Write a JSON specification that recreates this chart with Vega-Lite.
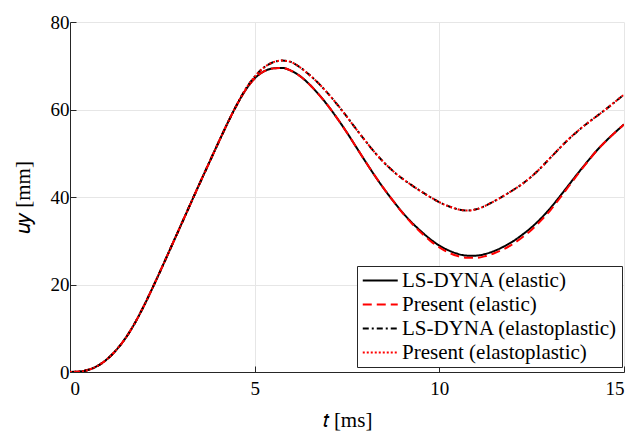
{
  "$schema": "https://vega.github.io/schema/vega-lite/v6.json",
  "width": 554,
  "height": 350,
  "autosize": {"type": "none"},
  "padding": {"left": 70, "top": 22, "right": 11, "bottom": 59},
  "background": "white",
  "config": {
    "font": "Liberation Serif",
    "view": {"stroke": null},
    "axis": {
      "domainColor": "#262626",
      "domainWidth": 1,
      "tickColor": "#262626",
      "tickSize": -6,
      "gridColor": "#e6e6e6",
      "gridWidth": 1,
      "labelFont": "Liberation Serif",
      "labelFontSize": 19,
      "labelColor": "#000000",
      "titleFont": "Liberation Serif",
      "titleFontSize": 21,
      "titleFontWeight": "normal",
      "titleColor": "#000000"
    },
    "legend": {
      "labelFont": "Liberation Serif",
      "labelFontSize": 21,
      "labelColor": "#000000"
    }
  },
  "data": {
    "values": [
      {"t": 0, "a": 0, "b": 0, "c": 0, "d": 0},
      {"t": 0.25, "a": 0.1, "b": 0.1, "c": 0.1, "d": 0.1},
      {"t": 0.5, "a": 0.5, "b": 0.5, "c": 0.5, "d": 0.5},
      {"t": 0.75, "a": 1.4, "b": 1.4, "c": 1.4, "d": 1.4},
      {"t": 1.0, "a": 2.9, "b": 2.9, "c": 2.9, "d": 2.9},
      {"t": 1.25, "a": 5.0, "b": 5.0, "c": 5.0, "d": 5.0},
      {"t": 1.5, "a": 7.7, "b": 7.7, "c": 7.7, "d": 7.7},
      {"t": 1.75, "a": 11.1, "b": 11.1, "c": 11.1, "d": 11.1},
      {"t": 2.0, "a": 15.1, "b": 15.1, "c": 15.1, "d": 15.1},
      {"t": 2.25, "a": 19.5, "b": 19.5, "c": 19.5, "d": 19.5},
      {"t": 2.5, "a": 24.1, "b": 24.1, "c": 24.1, "d": 24.1},
      {"t": 2.75, "a": 28.8, "b": 28.8, "c": 28.8, "d": 28.8},
      {"t": 3.0, "a": 33.5, "b": 33.5, "c": 33.5, "d": 33.5},
      {"t": 3.25, "a": 38.2, "b": 38.2, "c": 38.2, "d": 38.2},
      {"t": 3.5, "a": 42.9, "b": 42.9, "c": 42.9, "d": 42.9},
      {"t": 3.75, "a": 47.5, "b": 47.5, "c": 47.5, "d": 47.5},
      {"t": 4.0, "a": 52.1, "b": 52.1, "c": 52.1, "d": 52.1},
      {"t": 4.25, "a": 56.6, "b": 56.6, "c": 56.6, "d": 56.6},
      {"t": 4.5, "a": 60.8, "b": 60.8, "c": 60.8, "d": 60.8},
      {"t": 4.75, "a": 64.4, "b": 64.4, "c": 64.6, "d": 64.6},
      {"t": 5.0, "a": 67.1, "b": 67.1, "c": 67.5, "d": 67.5},
      {"t": 5.25, "a": 68.7, "b": 68.7, "c": 69.6, "d": 69.6},
      {"t": 5.5, "a": 69.4, "b": 69.4, "c": 70.8, "d": 70.8},
      {"t": 5.75, "a": 69.5, "b": 69.5, "c": 71.2, "d": 71.2},
      {"t": 6.0, "a": 68.8, "b": 68.8, "c": 70.8, "d": 70.8},
      {"t": 6.25, "a": 67.5, "b": 67.5, "c": 69.5, "d": 69.5},
      {"t": 6.5, "a": 65.6, "b": 65.6, "c": 67.8, "d": 67.8},
      {"t": 6.75, "a": 63.3, "b": 63.3, "c": 65.8, "d": 65.8},
      {"t": 7.0, "a": 60.7, "b": 60.7, "c": 63.5, "d": 63.5},
      {"t": 7.25, "a": 57.8, "b": 57.8, "c": 61.0, "d": 61.0},
      {"t": 7.5, "a": 54.7, "b": 54.7, "c": 58.3, "d": 58.3},
      {"t": 7.75, "a": 51.4, "b": 51.4, "c": 55.5, "d": 55.5},
      {"t": 8.0, "a": 48.1, "b": 48.1, "c": 52.8, "d": 52.8},
      {"t": 8.25, "a": 44.9, "b": 44.9, "c": 50.2, "d": 50.2},
      {"t": 8.5, "a": 41.9, "b": 41.9, "c": 47.9, "d": 47.9},
      {"t": 8.75, "a": 39.1, "b": 39.1, "c": 45.9, "d": 45.9},
      {"t": 9.0, "a": 36.5, "b": 36.4, "c": 44.2, "d": 44.2},
      {"t": 9.25, "a": 34.2, "b": 34.0, "c": 42.7, "d": 42.7},
      {"t": 9.5, "a": 32.2, "b": 31.9, "c": 41.3, "d": 41.3},
      {"t": 9.75, "a": 30.4, "b": 30.0, "c": 40.0, "d": 40.0},
      {"t": 10.0, "a": 28.9, "b": 28.5, "c": 38.8, "d": 38.8},
      {"t": 10.25, "a": 27.8, "b": 27.3, "c": 37.9, "d": 37.9},
      {"t": 10.5, "a": 27.0, "b": 26.5, "c": 37.2, "d": 37.2},
      {"t": 10.75, "a": 26.6, "b": 26.1, "c": 36.9, "d": 36.9},
      {"t": 11.0, "a": 26.6, "b": 26.1, "c": 37.2, "d": 37.2},
      {"t": 11.25, "a": 27.0, "b": 26.5, "c": 38.0, "d": 38.0},
      {"t": 11.5, "a": 27.7, "b": 27.2, "c": 39.1, "d": 39.1},
      {"t": 11.75, "a": 28.7, "b": 28.1, "c": 40.3, "d": 40.3},
      {"t": 12.0, "a": 29.9, "b": 29.3, "c": 41.6, "d": 41.6},
      {"t": 12.25, "a": 31.4, "b": 30.8, "c": 43.0, "d": 43.0},
      {"t": 12.5, "a": 33.1, "b": 32.5, "c": 44.7, "d": 44.7},
      {"t": 12.75, "a": 35.1, "b": 34.6, "c": 46.7, "d": 46.7},
      {"t": 13.0, "a": 37.4, "b": 36.9, "c": 48.9, "d": 48.9},
      {"t": 13.25, "a": 40.0, "b": 39.6, "c": 51.1, "d": 51.1},
      {"t": 13.5, "a": 42.7, "b": 42.4, "c": 53.2, "d": 53.2},
      {"t": 13.75, "a": 45.4, "b": 45.2, "c": 55.1, "d": 55.1},
      {"t": 14.0, "a": 48.0, "b": 47.9, "c": 56.8, "d": 56.8},
      {"t": 14.25, "a": 50.5, "b": 50.5, "c": 58.4, "d": 58.4},
      {"t": 14.5, "a": 52.7, "b": 52.7, "c": 60.0, "d": 60.0},
      {"t": 14.75, "a": 54.7, "b": 54.7, "c": 61.7, "d": 61.7},
      {"t": 15.0, "a": 56.6, "b": 56.6, "c": 63.4, "d": 63.4}
    ]
  },
  "transform": [
    {"fold": ["a", "b", "c", "d"], "as": ["key", "u"]},
    {"lookup": "key", "from": {"data": {"values": [
      {"key": "a", "series": "LS-DYNA (elastic)"},
      {"key": "b", "series": "Present (elastic)"},
      {"key": "c", "series": "LS-DYNA (elastoplastic)"},
      {"key": "d", "series": "Present (elastoplastic)"}
    ]}, "key": "key", "fields": ["series"]}}
  ],
  "mark": {"type": "line", "strokeWidth": 2, "clip": true, "interpolate": "monotone"},
  "encoding": {
    "x": {
      "field": "t", "type": "quantitative",
      "scale": {"domain": [0, 15], "nice": false},
      "axis": {"values": [0, 5, 10, 15], "title": "𝑡 [ms]", "labelFont": "Liberation Serif", "titleFont": "Liberation Serif", "labelPadding": 13, "titleY": 37, "grid": true}
    },
    "y": {
      "field": "u", "type": "quantitative",
      "scale": {"domain": [0, 80], "nice": false},
      "axis": {"values": [0, 20, 40, 60, 80], "title": "𝑢𝑦 [mm]", "labelFont": "Liberation Serif", "titleFont": "Liberation Serif", "labelPadding": 7, "titleX": -37, "grid": true}
    },
    "detail": {"field": "series"},
    "order": {"field": "t", "type": "quantitative"},
    "color": {
      "field": "series", "type": "nominal",
      "scale": {
        "domain": ["LS-DYNA (elastic)", "Present (elastic)", "LS-DYNA (elastoplastic)", "Present (elastoplastic)"],
        "range": ["#000000", "#ff0000", "#000000", "#ff0000"]
      },
      "legend": {
        "title": null,
        "orient": "none",
        "legendX": 287,
        "legendY": 244,
        "symbolType": "M-1,0H3",
        "symbolSize": 306,
        "symbolStrokeWidth": 2,
        "strokeColor": "#262626",
        "fillColor": "white",
        "padding": 4,
        "rowPadding": 2,
        "labelOffset": 20,
        "labelLimit": 400,
        "labelFontSize": 21
      }
    },
    "strokeDash": {
      "field": "series", "type": "nominal",
      "scale": {
        "domain": ["LS-DYNA (elastic)", "Present (elastic)", "LS-DYNA (elastoplastic)", "Present (elastoplastic)"],
        "range": [[1, 0], [9, 5], [6, 3, 2, 3], [2, 2]]
      },
      "legend": null
    }
  }
}
